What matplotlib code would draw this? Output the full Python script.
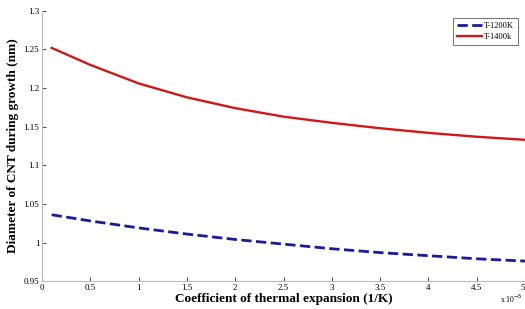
import matplotlib
matplotlib.use("Agg")
import matplotlib.pyplot as plt

plt.rcParams['font.family'] = ['Liberation Serif', 'DejaVu Serif']

# 数据 (x 单位: 1e-5 1/K)
alpha = [0.1, 0.5, 1.0, 1.5, 2.0, 2.5, 3.0, 3.5, 4.0, 4.5, 5.0]
d_1200 = [1.036, 1.028, 1.019, 1.011, 1.004, 0.998, 0.992, 0.987, 0.983, 0.979, 0.976]
d_1400 = [1.252, 1.230, 1.206, 1.188, 1.174, 1.163, 1.155, 1.148, 1.142, 1.137, 1.133]
xticks = [0, 0.5, 1, 1.5, 2, 2.5, 3, 3.5, 4, 4.5, 5]
yticks = [0.95, 1, 1.05, 1.1, 1.15, 1.2, 1.25, 1.3]

fig = plt.figure(figsize=(5.25, 3.09), dpi=100)
ax = fig.add_axes([0.08, 0.09, 0.92, 0.875])

ax.plot(alpha, d_1200, ls='--', lw=2, c='#1a1aa0', label='T-1200K')
ax.plot(alpha, d_1400, ls='-', lw=1.7, c='#d01818', label='T-1400k')

ax.set_xlim(0, 5)
ax.set_ylim(0.95, 1.3)
ax.set_xticks(xticks)
ax.set_xticklabels([('%g' % t) for t in xticks], fontsize=6.5)
ax.get_xticklabels()[-1].set_horizontalalignment('right')
ax.set_yticks(yticks)
ax.set_yticklabels([('%g' % t) for t in yticks], fontsize=6.5)
ax.tick_params(direction='in', length=3, color='#555555', pad=2)

for s in ['top', 'right']:
    ax.spines[s].set_visible(False)
for s in ['left', 'bottom']:
    ax.spines[s].set_color('#bbbbbb')

ax.set_xlabel("Coefficient of thermal expansion (1/K)", fontsize=9.5, fontweight='bold', labelpad=1)
ax.set_ylabel("Diameter of CNT during growth (nm)", fontsize=9.5, fontweight='bold', labelpad=3)
fig.text(0.995, 0.02, r'x 10$^{-5}$', fontsize=5.5, ha='right')

leg = ax.legend(loc='upper right', bbox_to_anchor=(0.995, 0.99), fontsize=6, frameon=True,
                fancybox=False, edgecolor='#333333', handlelength=3, borderpad=0.5,
                labelspacing=0.35, handletextpad=0.3)
leg.get_frame().set_linewidth(0.6)

plt.savefig('out.png', dpi=100)
